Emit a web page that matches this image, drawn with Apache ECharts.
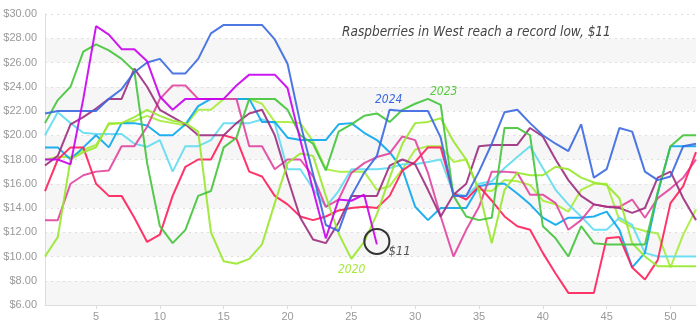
<!DOCTYPE html>
<html><head><meta charset="utf-8">
<script src="https://cdn.jsdelivr.net/npm/echarts@6/dist/echarts.min.js"></script>
<style>html,body{margin:0;padding:0;background:#fff}#c{width:700px;height:325px}</style>
</head><body><div id="c"></div>
<script>
const weeks = ['1','2','3','4','5','6','7','8','9','10','11','12','13','14','15','16','17','18','19','20','21','22','23','24','25','26','27','28','29','30','31','32','33','34','35','36','37','38','39','40','41','42','43','44','45','46','47','48','49','50','51','52'];
const yTicks = [6,8,10,12,14,16,18,20,22,24,26,28,30];

const s2024 = [21.8,22,22,22,22,23,23.8,25.2,26,26.3, 25.1,25.1,26.3,28.4,29.1,29.1,29.1,29.1,27.9,25.9, 21,16.8,12.6,12.1,15,16.9,18.3,22.1,22,22, 22,19.8,15,15,17,19.3,21.9,22.1,21,20, 19.3,18.7,20.9,16.5,17.2,20.6,20.3,17,16.3,16.6, 19.1,19.3];
const s2023 = [21,22.9,24,26.9,27.5,27,26.3,25.3,17.7,12.5, 11.1,12.2,15,15.4,19,19.8,23,23,23,22.1, 20,19.3,17.1,20.3,20.9,21.6,21.8,21.1,22.1,22.6, 23,22.5,15,13.3,13,13.2,20.6,20.6,20,12.5, 11.5,10,12.5,11.1,11,11,11,11,15.3,19.1, 20,20];
const s2020 = [10,11.6,18,18.6,19,21,21,21.5,22.1,21.6, 21.2,21,20.3,12,9.6,9.4,9.8,11,14.4,17.7, 18.5,18.3,15,11.9,9.8,11.2,13.5,16.5,19.3,21, 21.1,21.4,19.5,18,15.4,11.1,15.5,16.9,16.7,16.7, 17.4,17.2,16.5,16.1,15.9,14.8,11.1,10,9.2,9.2, 9.2,9.2];
const sLime = [18,18.2,18.2,18.8,19.2,20.9,21,21.2,21.6,21.2, 21,20.8,22.1,22.1,23,23,23,22.6,21.1,21.1, 21,19.5,17.2,17,17,17,15.5,15.8,17.2,18.8, 19.1,19.1,17.8,18,15.5,15.4,16.3,16.2,15.9,14.6, 14.3,13.7,15.5,16,16,13,12.4,12.1,11.9,9.1, 11.8,13.9];
const s2025 = [18,18,17.6,23,29,28.3,27.1,27.1,26.1,23.2, 22.1,23,23,23,23,24.1,25,25,25,23.9, 19.6,15.5,11.5,14.7,14.6,15.1,11];
const sRed = [15.4,18,19,19,16,15,15,13.2,11.2,11.8, 15,17.4,18,18,20,19.7,17,16.6,15,14.3, 13.3,13,13.3,13.8,14,14.1,14,15,17.1,17.8, 19,19,15.2,14.7,15.8,14.6,13.3,12.5,12.2,10.3, 8.6,7,7,7,11.5,11.6,9.1,8.1,9.7,14.4, 15.8,18.6];
const sPink = [13,13,16,16.7,17,17.1,19.1,19.1,20.7,23, 24.1,24.1,23,23,23,23,19.1,19.1,17.2,18, 18,16.6,14.1,14.7,16.9,17.7,18.2,18.5,19.9,19.6, 16.9,13.3,10,12.2,14.1,17,17,16.9,15.1,15.1, 14.4,12.2,13,14.3,14.1,14.1,14.7,13.2,14.8,15.6, 16.5,18];
const sCyan = [20,21.9,21,20.2,20.1,20.1,20.1,19.3,19.05,19.6, 17,19.1,19.1,19.6,21,21,21,21.3,21,17.2, 17.2,15.6,14.1,15.4,17.2,17.2,17.2,17.3,17.6,17.6, 17.8,18,15.2,15,16,16.2,17.3,18.2,19.1,17.3, 15.5,14.3,13.3,12.2,12.2,13.2,12.6,10.3,10,10, 10,10];
const sSky = [19,19,18,19,20,19,21,21,20.8,20, 20,20.9,22.4,23,23,23,23,21.1,21.1,19.8, 19.6,19.6,19.6,20.9,21,20.2,19.6,18.6,17.2,14.1, 13,14,14,14,15.8,16,16,15.2,14.3,13.2, 12.6,13.2,13.2,13.3,13.7,12.2,9.1,10.3,15.2,19.1, 19.1,19.1];
const sPlum = [17.5,18.3,20.9,21.5,22.2,23,23,25.5,24,22.1, 21.5,20.9,20,20,20,21,21.8,22.1,20,16.5, 13.2,11.4,11.1,12.8,15,15,15,17.5,18,17.6, 15.5,13.3,15.1,16,19.1,19.2,19.2,19.2,20.6,19.9, 18,16.3,15,14.3,14.1,14,13.6,14,16.5,17, 14.8,13];

const hand = "'Liberation Sans Narrow','DejaVu Sans Condensed',sans-serif";

function line(name, data, color, extra) {
  return Object.assign({
    name, type:'line', data, symbol:'none', smooth:false,
    lineStyle:{color, width:2, opacity:0.9},
    itemStyle:{color}, silent:true
  }, extra || {});
}

const chart = echarts.init(document.getElementById('c'), null, {renderer:'canvas'});
chart.setOption({
  animation:false,
  backgroundColor:'#fff',
  grid:{left:45, right:4, top:14, bottom:20},
  xAxis:{
    type:'category', data:weeks, boundaryGap:false,
    axisLine:{show:true, lineStyle:{color:'#ddd'}},
    axisTick:{show:true, interval:(i,v)=>(+v)%5===0, length:4, lineStyle:{color:'#ddd'}},
    axisLabel:{interval:(i,v)=>(+v)%5===0, color:'#999', fontSize:11, margin:6, fontFamily:'Liberation Sans, sans-serif'},
    splitLine:{show:false}
  },
  yAxis:{
    type:'value', min:yTicks[0], max:yTicks[yTicks.length-1], interval:2,
    axisLine:{show:true, lineStyle:{color:'#ddd'}},
    axisTick:{show:false},
    axisLabel:{formatter:v=>'$'+v.toFixed(2), color:'#999', fontSize:11, margin:8, fontFamily:'Liberation Sans, sans-serif'},
    splitLine:{show:true, lineStyle:{color:'#ddd', type:[2,4]}},
    splitArea:{show:true, areaStyle:{color:['#f6f6f6','#ffffff']}}
  },
  series:[
    line('Other lime', sLime, '#a6ec3a'),
    line('Light cyan', sCyan, '#5fdcef'),
    line('Sky', sSky, '#0aa6ee'),
    line('Pink', sPink, '#e0449e'),
    line('Red', sRed, '#ff1f5a'),
    line('Plum', sPlum, '#9c2c7e'),
    line('2020', s2020, '#98e82c'),
    line('2023', s2023, '#43c43a'),
    line('2024', s2024, '#3a68e0'),
    line('2025', s2025, '#c800ee', {
      markPoint:{
        symbol:'circle', symbolSize:25, symbolOffset:[0,-3], silent:true,
        itemStyle:{color:'rgba(0,0,0,0)', borderColor:'#333', borderWidth:2},
        label:{show:true, formatter:'$11', position:'right', offset:[-7,10], color:'#555', fontSize:13, fontStyle:'italic', fontFamily:hand},
        data:[{coord:['27', 11]}]
      }
    })
  ],
  graphic:[
    {type:'text', left:342, top:25, z:100, silent:true, style:{text:'Raspberries in West reach a record low, $11', fill:'#444', fontSize:13.5, fontStyle:'italic', fontFamily:hand}},
    {type:'text', left:375, top:94, z:100, silent:true, style:{text:'2024', fill:'#3a68e0', fontSize:12, fontStyle:'italic', fontFamily:hand}},
    {type:'text', left:430, top:86, z:100, silent:true, style:{text:'2023', fill:'#58cc40', fontSize:12, fontStyle:'italic', fontFamily:hand}},
    {type:'text', left:338, top:264, z:100, silent:true, style:{text:'2020', fill:'#a8e840', fontSize:12, fontStyle:'italic', fontFamily:hand}}
  ]
});
</script></body></html>
